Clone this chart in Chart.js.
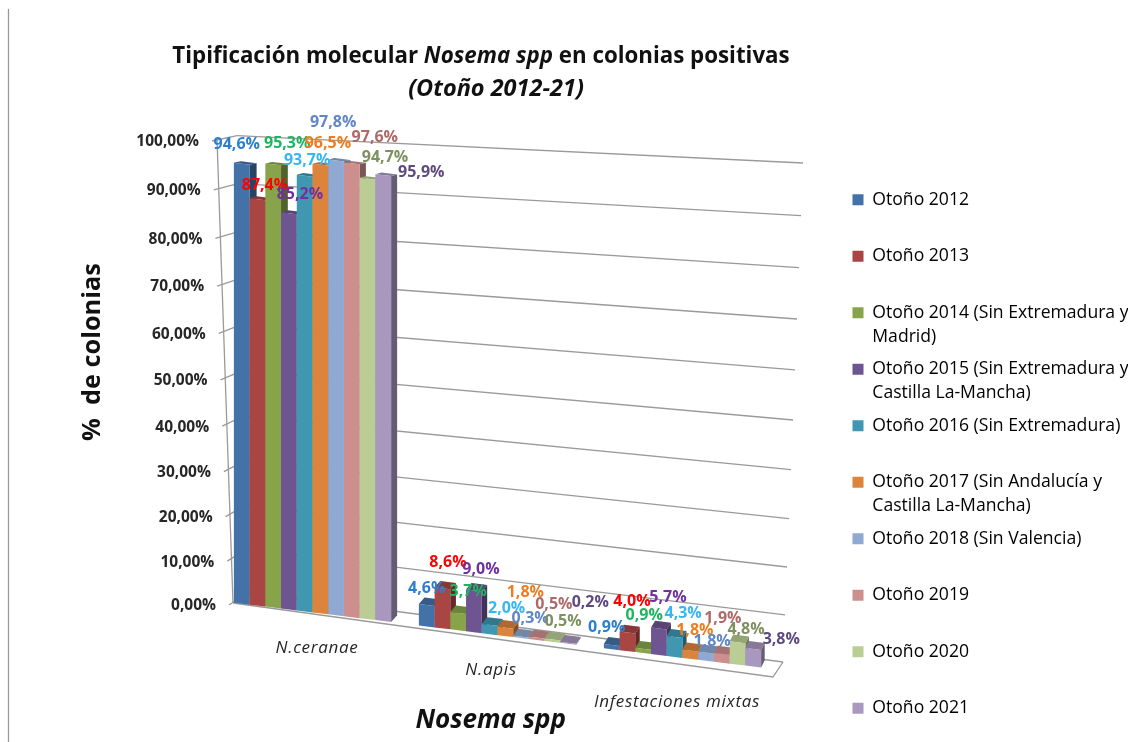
<!DOCTYPE html>
<html>
<head>
<meta charset="utf-8">
<title>Tipificación molecular Nosema spp</title>
<script src="https://cdn.jsdelivr.net/npm/chart.js@4/dist/chart.umd.js"></script>
<style>
  html, body { margin: 0; background: #fff; overflow: hidden; }
  canvas { display: block; }
</style>
</head>
<body>
<canvas id="nosemaChart" width="1128" height="742"></canvas>
<script>
var categories = ['N.ceranae', 'N.apis', 'Infestaciones mixtas'];

var otono2012 = [94.6, 4.6, 0.9];
var otono2013 = [87.4, 8.6, 4.0];
var otono2014 = [95.3, 3.7, 0.9];
var otono2015 = [85.2, 9.0, 5.7];
var otono2016 = [93.7, 2.0, 4.3];
var otono2017 = [96.5, 1.8, 1.8];
var otono2018 = [97.8, 0.3, 1.8];
var otono2019 = [97.6, 0.5, 1.9];
var otono2020 = [94.7, 0.5, 4.8];
var otono2021 = [95.9, 0.2, 3.8];
var seriesValues = [otono2012, otono2013, otono2014, otono2015, otono2016,
                    otono2017, otono2018, otono2019, otono2020, otono2021];

var seriesLabels = [
  ['Otoño 2012', ''],
  ['Otoño 2013', ''],
  ['Otoño 2014 (Sin Extremadura y', 'Madrid)'],
  ['Otoño 2015 (Sin Extremadura y', 'Castilla La-Mancha)'],
  ['Otoño 2016 (Sin Extremadura)', ''],
  ['Otoño 2017 (Sin Andalucía y', 'Castilla La-Mancha)'],
  ['Otoño 2018 (Sin Valencia)', ''],
  ['Otoño 2019', ''],
  ['Otoño 2020', ''],
  ['Otoño 2021', '']
];

var barColors = ['#4372a8', '#a94543', '#87a44b', '#6f5492', '#3f97b1',
                 '#dc843c', '#8fa9d2', '#cd8f8d', '#bacd94', '#a898bf'];
var labelColors = ['#2a7fd0', '#ff0000', '#1fb45f', '#7030a0', '#35b8f2',
                   '#ed7d1f', '#5f86c6', '#ae6a68', '#7f9060', '#5f4a80'];

// nudges of the value labels from the top of their bar, [dx, dy] by category then series
var labelNudges = [
  [[-5,-19], [7.5,-14], [14,-21], [11,-19], [2.5,-15], [7.5,-21], [-3,-38], [23,-26], [17.5,-21], [38,-3]],
  [[0,-17], [5.5,-26], [10,-22], [7,-21], [17,-16], [20,-35], [9,-18], [17,-33], [10.5,-18], [22,-40]],
  [[-5,-18], [4.5,-31.5], [1,-33], [9,-31.5], [8.5,-23], [4.5,-20.5], [6,-11], [1,-35], [8.5,-12.5], [28,-9]]
];
var categoryLabelNudges = [[4.5, 36], [-6.5, 35], [-5.5, 44]];

var FONT = '"Open Sans", sans-serif';
var SHEAR = 0.123;
var GRID = '#9a9a9a';

// the floor runs downhill to the right, everything in the plot follows it
function sheared(chart, x, y) {
  return { x: x, y: y + SHEAR * (x - chart.chartArea.left) };
}

function depthAt(p) {
  return {
    x: 7 - 3.5 * (p.x - 240) / 520,
    y: -(1.5 + (p.y - 165) * 5.5 / 485)
  };
}

function face(ctx, pts, color, shade) {
  ctx.beginPath();
  ctx.moveTo(pts[0].x, pts[0].y);
  for (var i = 1; i < pts.length; i++) ctx.lineTo(pts[i].x, pts[i].y);
  ctx.closePath();
  ctx.fillStyle = color;
  ctx.fill();
  ctx.fillStyle = 'rgba(0,0,0,' + shade + ')';
  ctx.fill();
}

function wallT(t) { return 1.06 * t - 0.06 * t * t; }

function line(ctx, x1, y1, x2, y2) {
  ctx.beginPath();
  ctx.moveTo(x1, y1);
  ctx.lineTo(x2, y2);
  ctx.stroke();
}

function drawWalls(chart) {
  var ctx = chart.ctx;
  ctx.save();
  ctx.strokeStyle = GRID;
  ctx.lineWidth = 1.3;
  line(ctx, 8.5, 9, 8.5, 742);

  // one gridline per tick of the y scale
  var ticks = chart.scales.y.ticks;
  ctx.font = 'bold 15.5px ' + FONT;
  ctx.fillStyle = '#262626';
  ctx.textAlign = 'right';
  ctx.textBaseline = 'middle';
  for (var i = 0; i < ticks.length; i++) {
    var t = 1 - ticks[i].value / 100;
    var s = wallT(t);
    var ax = 212 + 17 * t, ay = 141 + 464 * s;
    var bx = 237 + 11 * t, by = 135.6 + 456.4 * s;
    var cx = 803 - 20 * t, cy = 163 + 499 * s;
    line(ctx, ax, ay, bx, by);
    line(ctx, bx, by, cx, cy);
    ctx.fillText(ticks[i].label, ax - 13, ay + 1);
  }
  line(ctx, 217, 139, 233, 603);
  // floor edge
  ctx.beginPath();
  ctx.moveTo(233, 603);
  ctx.lineTo(773, 677);
  ctx.lineTo(783, 662);
  ctx.stroke();
  ctx.restore();
}

function drawSeries(chart, index) {
  var ctx = chart.ctx;
  var meta = chart.getDatasetMeta(index);
  var color = barColors[index];
  meta.data.forEach(function(bar) {
    var half = bar.width / 2;
    var tl = sheared(chart, bar.x - half, bar.y);
    var tr = sheared(chart, bar.x + half, bar.y);
    var br = sheared(chart, bar.x + half, bar.base);
    var dTop = depthAt(tr), dBase = depthAt(br);
    face(ctx, [br, tr, {x: tr.x + dTop.x, y: tr.y + dTop.y}, {x: br.x + dBase.x, y: br.y + dBase.y}], color, 0.4);
    face(ctx, [tl, tr, {x: tr.x + dTop.x, y: tr.y + dTop.y}, {x: tl.x + dTop.x, y: tl.y + dTop.y}], color, 0.2);
  });
  ctx.save();
  ctx.transform(1, SHEAR, 0, 1, 0, -SHEAR * chart.chartArea.left);
  meta.controller.draw();
  ctx.restore();
}

var plot3d = {
  id: 'plot3d',
  afterLayout: function(chart) {
    // the long legend lines run off the right edge of the picture
    chart.legend.left = 844;
    chart.legend.right = 1128;
    chart.legend.top = 182.5;
  },
  beforeDatasetsDraw: function(chart) {
    drawWalls(chart);
    // left to right, so each bar covers the side of the one before it
    for (var i = 0; i < seriesValues.length; i++) drawSeries(chart, i);
  },
  beforeDatasetDraw: function() {
    return false;
  },
  afterDatasetsDraw: function(chart) {
    var ctx = chart.ctx;
    ctx.save();
    ctx.textAlign = 'center';
    ctx.textBaseline = 'middle';

    ctx.font = 'bold 16px ' + FONT;
    seriesValues.forEach(function(values, i) {
      var bars = chart.getDatasetMeta(i).data;
      values.forEach(function(v, c) {
        var p = sheared(chart, bars[c].x, bars[c].y);
        var nudge = labelNudges[c][i];
        ctx.fillStyle = labelColors[i];
        ctx.fillText(v.toFixed(1).replace('.', ',') + '%', p.x + nudge[0], p.y + nudge[1]);
      });
    });

    // category labels sit along the floor, so not in one row
    ctx.font = 'italic 17px ' + FONT;
    ctx.letterSpacing = '0.7px';
    ctx.fillStyle = '#262626';
    var xScale = chart.scales.x;
    xScale.ticks.forEach(function(tick, c) {
      var p = sheared(chart, xScale.getPixelForTick(c), chart.chartArea.bottom);
      ctx.fillText(tick.label, p.x + categoryLabelNudges[c][0], p.y + categoryLabelNudges[c][1]);
    });
    ctx.letterSpacing = '0px';

    drawTitleLine(ctx, titleLine1, 22.3, 481, 57);
    drawTitleLine(ctx, titleLine2, 23.5, 496, 89);
    ctx.restore();
  }
};

var titleLine1 = [['Tipificación molecular ', 'bold'], ['Nosema spp', 'italic bold'], [' en colonias positivas', 'bold']];
var titleLine2 = [['(Otoño 2012-21)', 'italic bold']];

function drawTitleLine(ctx, parts, size, centerX, y) {
  var total = 0;
  parts.forEach(function(p) {
    ctx.font = p[1] + ' ' + size + 'px ' + FONT;
    total += ctx.measureText(p[0]).width;
  });
  var x = centerX - total / 2;
  ctx.textAlign = 'left';
  ctx.fillStyle = '#111';
  parts.forEach(function(p) {
    ctx.font = p[1] + ' ' + size + 'px ' + FONT;
    ctx.fillText(p[0], x, y);
    x += ctx.measureText(p[0]).width;
  });
}

var datasets = seriesValues.map(function(values, i) {
  return {
    label: seriesLabels[i][0],
    data: values,
    backgroundColor: barColors[i],
    categoryPercentage: 0.85,
    barPercentage: 1
  };
});

new Chart(document.getElementById('nosemaChart'), {
  type: 'bar',
  data: { labels: categories, datasets: datasets },
  plugins: [plot3d],
  options: {
    responsive: false,
    animation: false,
    layout: { padding: { top: 136, right: 70, left: 0, bottom: 0 } },
    plugins: {
      tooltip: { enabled: false },
      title: { display: false },
      legend: {
        position: 'right',
        align: 'start',
        maxWidth: 283,
        labels: {
          boxWidth: 11,
          boxHeight: 11,
          padding: 8.5,
          color: '#333',
          font: { family: FONT, size: 17.6, lineHeight: 24 / 17.6 },
          generateLabels: function() {
            return seriesLabels.map(function(text, i) {
              return { text: text, fillStyle: barColors[i], strokeStyle: barColors[i], lineWidth: 0, datasetIndex: i };
            });
          }
        }
      }
    },
    scales: {
      x: {
        grid: { display: false },
        border: { display: false },
        ticks: { display: false },
        afterFit: function(scale) { scale.height = 141; },
        title: {
          display: true,
          text: 'Nosema spp  ',
          color: '#111',
          font: { family: FONT, size: 26, weight: 'bold', style: 'italic' },
          padding: { top: 0, bottom: 6 }
        }
      },
      y: {
        min: 0,
        max: 100,
        grid: { display: false },
        border: { display: false },
        ticks: {
          display: false,
          stepSize: 10,
          callback: function(v) { return v.toFixed(2).replace('.', ',') + '%'; }
        },
        afterFit: function(scale) { scale.width = 220; },
        title: {
          display: true,
          text: '     %  de colonias',
          color: '#111',
          font: { family: FONT, size: 25.3, weight: 'bold' },
          padding: { top: 78, bottom: 0 }
        }
      }
    }
  }
});
</script>
</body>
</html>
